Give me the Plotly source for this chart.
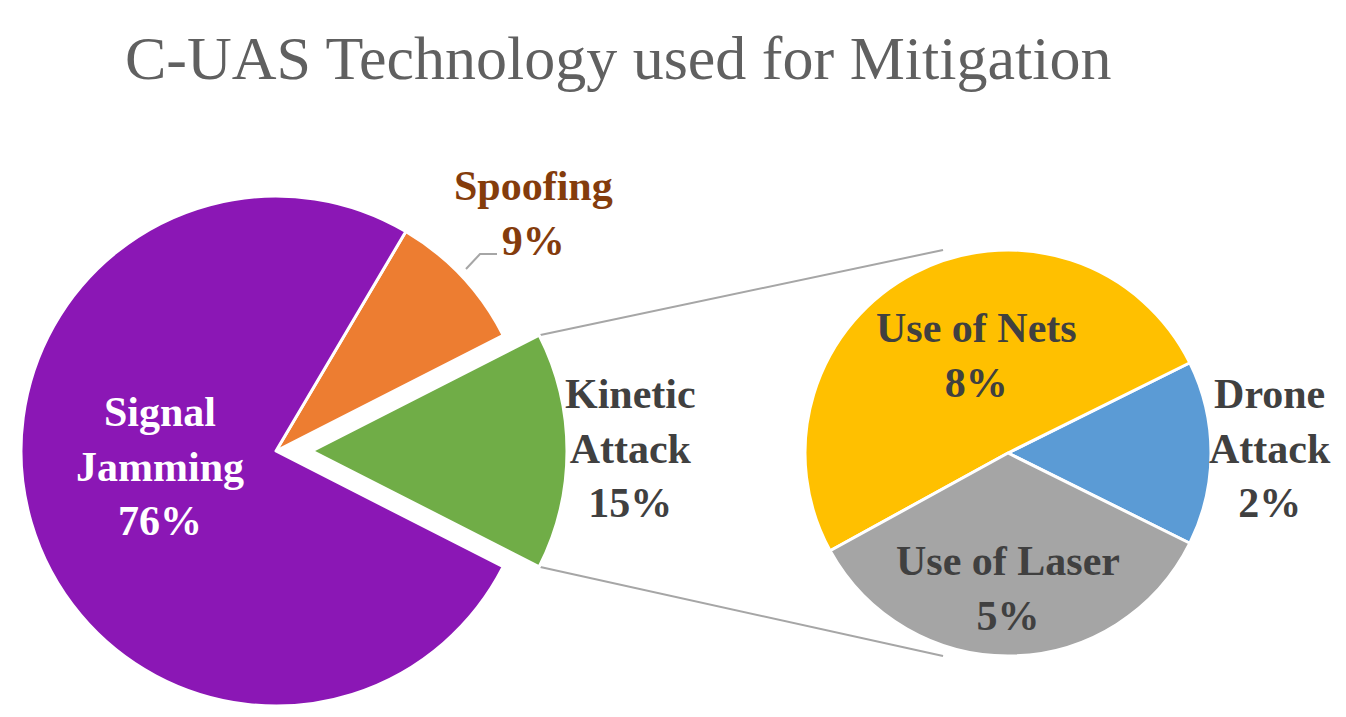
import math
import plotly.graph_objects as go

# data
main_labels = ["Kinetic Attack", "Spoofing", "Signal Jamming"]
main_values = [15, 9, 76]
sub_labels = ["Drone Attack", "Use of Nets", "Use of Laser"]
sub_values = [2.2, 7.6, 5.2]

W, H = 1346, 717

# colours
main_colors = ["#70AD47", "#ED7D31", "#8B17B5"]
sub_colors = ["#5B9BD5", "#FFC000", "#A5A5A5"]
CLEAR = "rgba(0,0,0,0)"
TXT = "#404040"
FONT = "Liberation Serif"

# geometry (pixels)
MAIN_C = (268, 443)
MAIN_R = 255
EXPLODE = 36
SUB_C = (1000, 445)
SUB_R = 203


def px(x, y):
    return x / W, 1 - y / H


def domain(cx, cy, r):
    x0, y1 = px(cx - r, cy - r)
    x1, y0 = px(cx + r, cy + r)
    return dict(x=[x0, x1], y=[y0, y1])


# the "other" slice is centred on 3 o'clock in both pies
# (counterclockwise: plotly ends the first slice at `rotation`)
main_rot = 90 - 360 * main_values[0] / sum(main_values) / 2
sub_rot = 90 - 360 * sub_values[0] / sum(sub_values) / 2

fig = go.Figure()

# main pie without the exploded slice
fig.add_trace(go.Pie(
    labels=main_labels, values=main_values, sort=False,
    direction="counterclockwise", rotation=main_rot,
    marker=dict(colors=[CLEAR] + main_colors[1:],
                line=dict(color=[CLEAR, "white", "white"], width=3)),
    textinfo="none", hoverinfo="label+percent", showlegend=False,
    domain=domain(*MAIN_C, MAIN_R),
))

# exploded slice
fig.add_trace(go.Pie(
    labels=main_labels, values=main_values, sort=False,
    direction="counterclockwise", rotation=main_rot,
    marker=dict(colors=[main_colors[0], CLEAR, CLEAR],
                line=dict(color=["white", CLEAR, CLEAR], width=3)),
    textinfo="none", hoverinfo="label+percent", showlegend=False,
    domain=domain(MAIN_C[0] + EXPLODE, MAIN_C[1], MAIN_R),
))

# secondary pie
fig.add_trace(go.Pie(
    labels=sub_labels, values=sub_values, sort=False,
    direction="counterclockwise", rotation=sub_rot,
    marker=dict(colors=sub_colors, line=dict(color="white", width=3)),
    textinfo="none", hoverinfo="label+value", showlegend=False,
    domain=domain(*SUB_C, SUB_R),
))

# connector lines from the exploded slice to the secondary pie
half = math.radians(180 * main_values[0] / sum(main_values))
for sign in (1, -1):
    x0 = MAIN_C[0] + EXPLODE + MAIN_R * math.cos(half)
    y0 = MAIN_C[1] - sign * MAIN_R * math.sin(half)
    x1 = SUB_C[0] - 0.32 * SUB_R
    y1 = SUB_C[1] - sign * SUB_R
    p0, p1 = px(x0, y0), px(x1, y1)
    fig.add_shape(type="line", xref="paper", yref="paper",
                  x0=p0[0], y0=p0[1], x1=p1[0], y1=p1[1],
                  line=dict(color="#A6A6A6", width=2), layer="below")

# spoofing leader line
l0, l1, l2 = px(458, 261), px(472, 246), px(489, 246)
fig.add_shape(type="path", xref="paper", yref="paper",
              path=f"M {l0[0]} {l0[1]} L {l1[0]} {l1[1]} L {l2[0]} {l2[1]}",
              line=dict(color="#A6A6A6", width=2))


def pct(v):
    return f"{v:.0f}%"


labels = [
    (f"Signal<br>Jamming<br>{pct(main_values[2])}", 152, 458, "white"),
    (f"Spoofing<br>{pct(main_values[1])}", 525, 205, "#843C0C"),
    (f"Kinetic<br>Attack<br>{pct(main_values[0])}", 622, 440, TXT),
    (f"Use of Nets<br>{pct(sub_values[1])}", 968, 348, TXT),
    (f"Use of Laser<br>{pct(sub_values[2])}", 1000, 580, TXT),
    (f"Drone<br>Attack<br>{pct(sub_values[0])}", 1262, 440, TXT),
]
for text, x, y, col in labels:
    ax, ay = px(x, y)
    fig.add_annotation(text=f"<b>{text}</b>", x=ax, y=ay, xref="paper", yref="paper",
                       showarrow=False, xanchor="center", yanchor="middle",
                       font=dict(family=FONT, size=42, color=col))

tx, ty = px(610, 50)
fig.add_annotation(text="C-UAS Technology used for Mitigation", x=tx, y=ty,
                   xref="paper", yref="paper", showarrow=False,
                   xanchor="center", yanchor="middle",
                   font=dict(family=FONT, size=62, color="#606060"))

fig.update_layout(
    width=W, height=H,
    margin=dict(l=0, r=0, t=0, b=0),
    paper_bgcolor="white", plot_bgcolor="white",
)

fig.write_html("out.html")
